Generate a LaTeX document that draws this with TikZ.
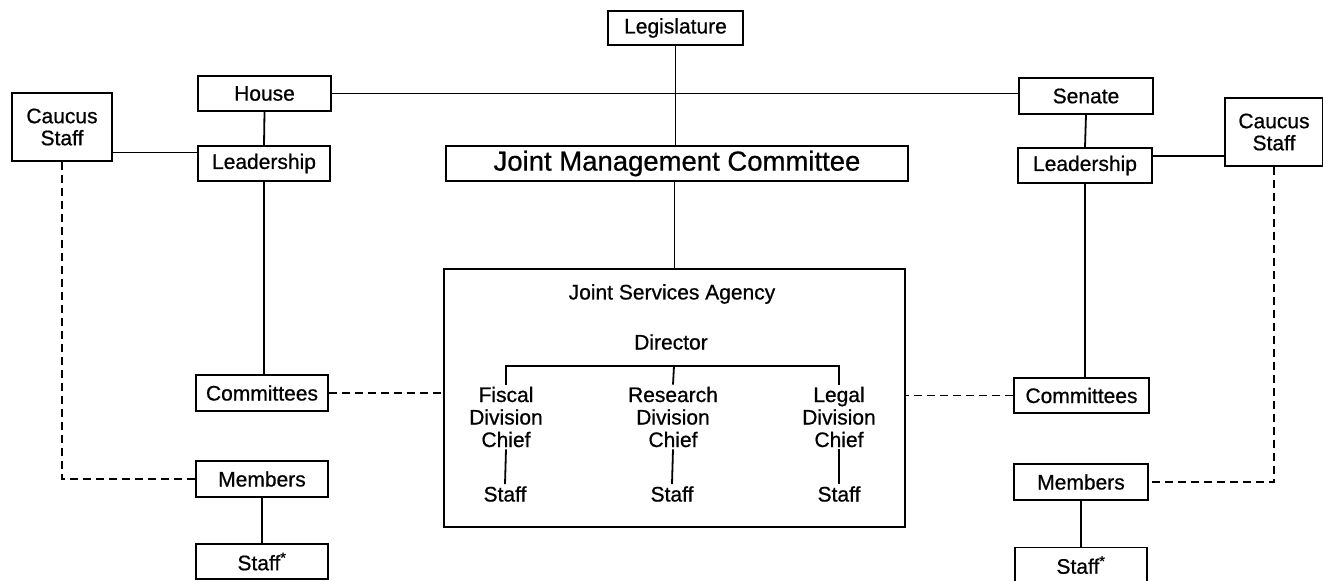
\documentclass[tikz,border=0pt]{standalone}
\usepackage{fontspec}
\setmainfont{Liberation Sans}[FakeBold=0.7]
\begin{document}
\begin{tikzpicture}[x=1pt,y=-1pt,
  obox/.style={draw,line width=1.8pt,inner sep=0pt,align=center,
    font=\fontsize{21}{22}\selectfont},
  big/.style={obox,font=\fontsize{27.5}{30}\selectfont},
  txt/.style={inner sep=2pt,align=center,font=\fontsize{21}{22.5}\selectfont},
  link/.style={line width=1.8pt},
  dlink/.style={line width=1.8pt,dash pattern=on 8pt off 5pt}]
\useasboundingbox (0,0) rectangle (1323,581);

% top level
\node[obox,minimum width=135pt,minimum height=34pt] (leg) at (675.5,28) {Legislature};
\node[obox,minimum width=133pt,minimum height=35pt] (house) at (264.5,93.5) {House};
\node[obox,minimum width=134pt,minimum height=36pt] (senate) at (1086,96) {Senate};
\node[obox,minimum width=132pt,minimum height=35pt] (lL) at (264,163.5) {Leadership};
\node[obox,minimum width=134pt,minimum height=35pt] (lR) at (1085,165.5) {Leadership};
\node[obox,minimum width=100pt,minimum height=68pt] (cL) at (62,127) {Caucus\\Staff};
\node[obox,minimum width=98pt,minimum height=68pt] (cR) at (1274,132) {Caucus\\Staff};
\node[big,minimum width=462pt,minimum height=35pt] (jmc) at (677,163.5) {Joint Management Committee};

% agency
\node[draw,line width=1.8pt,minimum width=461pt,minimum height=258pt,inner sep=0pt] (jsa) at (674.5,398) {};
\node[txt] (jsaT) at (672,294) {Joint Services Agency};
\node[txt] (dir) at (671,342) {Director};
\node[txt] (fis) at (506,417) {Fiscal\\Division\\Chief};
\node[txt] (res) at (673,417) {Research\\Division\\Chief};
\node[txt] (lgl) at (839,417) {Legal\\Division\\Chief};
\node[txt] (sF) at (505,494) {Staff};
\node[txt] (sR) at (672,494) {Staff};
\node[txt] (sG) at (839,494) {Staff};
\coordinate (bar) at (674,366);

% lower side boxes
\node[obox,minimum width=132pt,minimum height=36pt] (comL) at (262,393) {Committees};
\node[obox,minimum width=135pt,minimum height=35pt] (comR) at (1081.5,395.5) {Committees};
\node[obox,minimum width=132pt,minimum height=36pt] (memL) at (262,479) {Members};
\node[obox,minimum width=134pt,minimum height=36pt] (memR) at (1081,482) {Members};
\node[obox,minimum width=132pt,minimum height=35pt] (stL) at (262,561.5) {Staff\textsuperscript{*}};
\node[obox,minimum width=132pt,minimum height=35pt] (stR) at (1081,565) {Staff\textsuperscript{*}};

% solid connectors
\draw[link] (leg.south) -- (leg.south |- jmc.north);
\draw[link] (house.east) -- (house.east -| senate.west);
\draw[link] (house.south) -- (lL.north);
\draw[link] (senate.south) -- (lR.north);
\coordinate (a) at ([yshift=11pt]lL.west);
\draw[link] (a) -- (a -| cL.east);
\coordinate (b) at ([yshift=9.5pt]lR.east);
\draw[link] (b) -- (b -| cR.west);
\draw[link] (lL.south) -- (lL.south |- comL.north);
\draw[link] (lR.south) -- (lR.south |- comR.north);
\draw[link] (memL.south) -- (stL.north);
\draw[link] (memR.south) -- (stR.north);
\draw[link] (jmc.south -| jsa.north) -- (jsa.north);
\draw[link] (fis.north) |- (bar) -| (lgl.north);
\draw[link] (bar) -- (res.north);
\draw[link] (fis.south) -- (sF.north);
\draw[link] (res.south) -- (sR.north);
\draw[link] (lgl.south) -- (sG.north);

% dashed connectors
\draw[dlink] (comL.east) -- (comL.east -| jsa.west);
\draw[dlink] (comR.west) -- (comR.west -| jsa.east);
\draw[dlink] (cL.south) |- (memL.west);
\draw[dlink] (cR.south) |- (memR.east);
\end{tikzpicture}
\end{document}
